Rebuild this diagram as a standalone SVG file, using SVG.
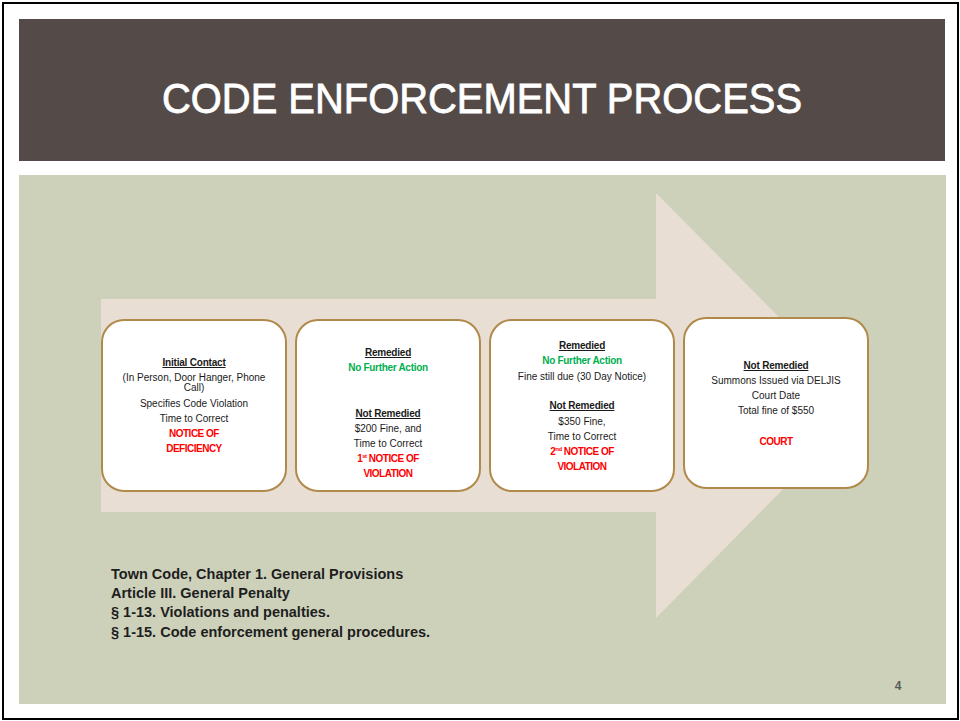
<svg xmlns="http://www.w3.org/2000/svg" width="960" height="721" viewBox="0 0 960 721">
<style>
.box{fill:#FFFFFF;stroke:#B08A4A;stroke-width:2}
.t{font-family:"Liberation Sans",Arial,sans-serif;font-size:10px;fill:#1A1A1A;text-anchor:middle}
.h{font-weight:bold;text-decoration:underline;letter-spacing:-0.2px}
.g{font-weight:bold;fill:#00B050;letter-spacing:-0.3px}
.r{font-weight:bold;fill:#FF0000;letter-spacing:-0.5px}
.foot{font-family:"Liberation Sans",Arial,sans-serif;font-size:14.5px;font-weight:bold;fill:#1E1E1E}
</style>
<rect x="0" y="0" width="960" height="721" fill="#FFFFFF"/>
<rect x="3" y="3" width="955" height="716" fill="none" stroke="#000000" stroke-width="2"/>
<g id="title">
<rect x="19" y="19" width="926" height="142" fill="#544B48"/>
<text x="482" y="113" font-family="'Liberation Sans',Arial,sans-serif" font-size="42" fill="#FFFFFF" stroke="#FFFFFF" stroke-width="0.8" text-anchor="middle" textLength="640" lengthAdjust="spacingAndGlyphs">CODE ENFORCEMENT PROCESS</text>
</g>
<g id="background">
<rect x="19" y="175" width="927" height="529" fill="#CDD1BA"/>
</g>
<g id="arrow">
<polygon points="101,299 656,299 656,193 866,405 656,618 656,512 101,512" fill="#E8DED4"/>
</g>
<g id="step1">
<rect class="box" x="102" y="320" width="184" height="171" rx="22"/>
<text class="t h" x="194" y="366">Initial Contact</text>
<text class="t" x="194" y="381">(In Person, Door Hanger, Phone</text>
<text class="t" x="194" y="391">Call)</text>
<text class="t" x="194" y="407">Specifies Code Violation</text>
<text class="t" x="194" y="422">Time to Correct</text>
<text class="t r" x="194" y="437">NOTICE OF</text>
<text class="t r" x="194" y="452">DEFICIENCY</text>
</g>
<g id="step2">
<rect class="box" x="296" y="320" width="184" height="171" rx="22"/>
<text class="t h" x="388" y="356">Remedied</text>
<text class="t g" x="388" y="371">No Further Action</text>
<text class="t h" x="388" y="417">Not Remedied</text>
<text class="t" x="388" y="432">$200 Fine, and</text>
<text class="t" x="388" y="447">Time to Correct</text>
<text class="t r" x="388" y="462">1<tspan font-size="6" dy="-4">st</tspan><tspan dy="4"> NOTICE OF</tspan></text>
<text class="t r" x="388" y="477">VIOLATION</text>
</g>
<g id="step3">
<rect class="box" x="490" y="320" width="184" height="171" rx="22"/>
<text class="t h" x="582" y="349">Remedied</text>
<text class="t g" x="582" y="364">No Further Action</text>
<text class="t" x="582" y="380">Fine still due (30 Day Notice)</text>
<text class="t h" x="582" y="409">Not Remedied</text>
<text class="t" x="582" y="425">$350  Fine,</text>
<text class="t" x="582" y="440">Time to Correct</text>
<text class="t r" x="582" y="455">2<tspan font-size="6" dy="-4">nd</tspan><tspan dy="4"> NOTICE OF</tspan></text>
<text class="t r" x="582" y="470">VIOLATION</text>
</g>
<g id="step4">
<rect class="box" x="684" y="318" width="184" height="170" rx="22"/>
<text class="t h" x="776" y="369">Not Remedied</text>
<text class="t" x="776" y="384">Summons Issued via DELJIS</text>
<text class="t" x="776" y="399">Court Date</text>
<text class="t" x="776" y="414">Total fine of $550</text>
<text class="t r" x="776" y="445">COURT</text>
</g>
<g id="connectors"></g>
<g id="references">
<text class="foot" x="111" y="579">Town Code, Chapter 1. General Provisions</text>
<text class="foot" x="111" y="598">Article III. General Penalty</text>
<text class="foot" x="111" y="617">§ 1-13. Violations and penalties.</text>
<text class="foot" x="111" y="637">§ 1-15. Code enforcement general procedures.</text>
</g>
<text x="898" y="690" font-family="'Liberation Sans',Arial,sans-serif" font-size="12" font-weight="bold" fill="#595959" text-anchor="middle">4</text>
</svg>
